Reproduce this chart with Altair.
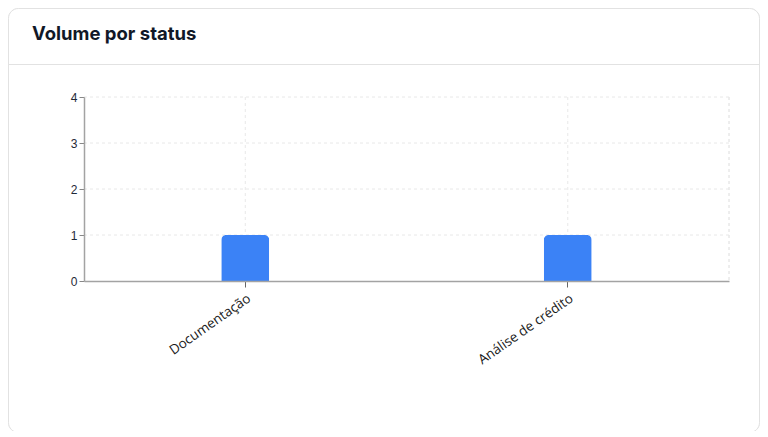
import altair as alt
import pandas as pd

categories = ["Documentação", "Análise de crédito"]
values = [1, 1]
y_ticks = [0, 1, 2, 3, 4]

df = pd.DataFrame({"status": categories, "volume": values})
gdf = pd.DataFrame({"tick": y_ticks[1:]})

W, H = 645, 184

yscale = alt.Scale(domain=[0, 4], nice=False)

xenc = alt.X("status:N", sort=categories,
             scale=alt.Scale(paddingInner=0, paddingOuter=0),
             axis=alt.Axis(title=None, labelAngle=-35, labelAlign="right",
                           labelBaseline="top", labelFont="Open Sans",
                           labelFontSize=13.5, labelColor="#1a1a1a",
                           labelPadding=4, tickSize=6, tickColor="#666",
                           domainColor="#a3a3a3", domainWidth=1.5, grid=False,
                           zindex=1))
yenc = alt.Y("volume:Q", scale=yscale,
             axis=alt.Axis(title=None, values=y_ticks, format="d",
                           labelFont="Liberation Sans", labelFontSize=12,
                           labelColor="#1f2937", tickSize=5, tickColor="#888",
                           domainColor="#a3a3a3", domainWidth=1.5,
                           grid=False, zindex=1))

card = alt.Chart(df).mark_rect(fill="white", stroke="#e2e2e2", strokeWidth=1,
                               cornerRadius=10).encode(
    x=alt.value(-75.5), x2=alt.value(675.5), y=alt.value(-88.5), y2=alt.value(335.5))

sep = alt.Chart(df).mark_rule(color="#e2e2e2", strokeWidth=1).encode(
    x=alt.value(-76), x2=alt.value(676), y=alt.value(-32.5))

title = alt.Chart(pd.DataFrame({"t": ["Volume por status"]})).mark_text(
    align="left", baseline="alphabetic", font="Inter", fontSize=18.5,
    fontWeight=700, color="#111827").encode(
    text="t:N", x=alt.value(-52), y=alt.value(-57))

hgrid = alt.Chart(gdf).mark_rule(color="#e8e8e8", strokeDash=[3, 3]).encode(
    y=alt.Y("tick:Q", scale=yscale), x=alt.value(0), x2=alt.value(W))

vgrid = alt.Chart(df).mark_rule(color="#e8e8e8", strokeDash=[3, 3]).encode(
    x=alt.X("status:N", sort=categories), y=alt.value(0), y2=alt.value(H))

rgrid = alt.Chart(df).mark_rule(color="#e8e8e8", strokeDash=[3, 3]).encode(
    x=alt.value(W), y=alt.value(0), y2=alt.value(H))

bars = alt.Chart(df).mark_bar(color="#3b82f6", size=48,
                              cornerRadiusTopLeft=5, cornerRadiusTopRight=5).encode(
    x=xenc, y=yenc)

chart = alt.layer(card, sep, title, hgrid, rgrid, vgrid, bars).properties(
    width=W, height=H,
    autosize=alt.AutoSizeParams(type="none"),
    padding={"left": 76, "top": 89, "right": 31, "bottom": 150},
).configure_view(stroke=None).configure(background="white")

chart.save("out.html", embed_options={"renderer": "svg", "actions": False})
